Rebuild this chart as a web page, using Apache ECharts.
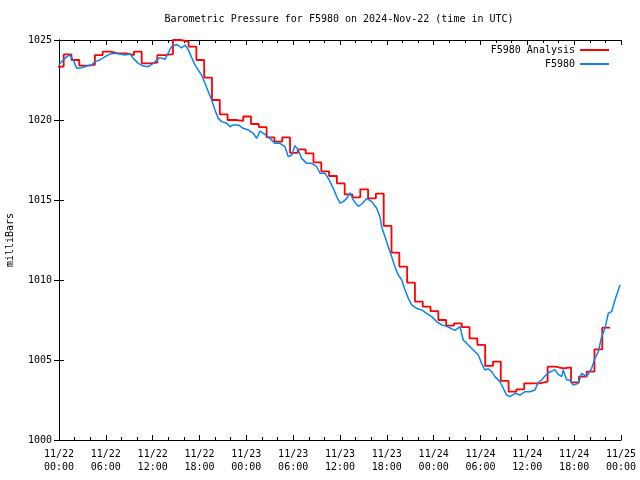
<!DOCTYPE html>
<html>
<head>
<meta charset="utf-8">
<script src="https://cdn.jsdelivr.net/npm/echarts@6/dist/echarts.min.js"></script>
<style>
html,body{margin:0;padding:0;background:#fff;}
#chart{width:640px;height:480px;}
</style>
</head>
<body>
<div id="chart"></div>
<script>
// X tick labels (every 6 hours from 2024-11-22 00:00 UTC)
const xTickLabels = ['11/22\n00:00','11/22\n06:00','11/22\n12:00','11/22\n18:00',
  '11/23\n00:00','11/23\n06:00','11/23\n12:00','11/23\n18:00',
  '11/24\n00:00','11/24\n06:00','11/24\n12:00','11/24\n18:00','11/25\n00:00'];

// F5980 Analysis: hourly values (step starts at hour index - 0.4)
const analysisStartHour = -0.4;
const analysisValues = [
  1023.33,1024.10,1023.75,1023.40,1023.45,1024.06,1024.27,1024.17,1024.17,1024.06,
  1024.27,1023.54,1023.58,1024.06,1024.12,1025.00,1024.90,1024.58,1023.75,1022.65,
  1021.25,1020.35,1020.00,1019.94,1020.22,1019.75,1019.55,1018.92,1018.65,1018.92,
  1017.95,1018.17,1017.92,1017.35,1016.79,1016.50,1016.04,1015.35,1015.17,1015.67,
  1015.10,1015.40,1013.38,1011.71,1010.83,1009.83,1008.65,1008.33,1008.05,1007.50,
  1007.15,1007.29,1007.06,1006.35,1005.94,1004.63,1004.90,1003.69,1003.02,1003.17,
  1003.54,1003.54,1003.65,1004.58,1004.48,1004.54,1003.60,1003.96,1004.27,1005.67,
  1007.02,1007.02
];

// F5980 observations: hours since 11/22 00:00 and pressure (mb)
const obsHours = [
  0.00,0.35,0.99,1.41,1.83,2.27,2.91,3.55,4.19,4.61,5.25,5.89,6.53,7.17,7.81,8.45,9.09,9.52,
  10.16,10.80,11.44,11.66,12.08,12.52,12.94,13.58,14.00,14.44,15.08,15.72,16.14,16.56,17.00,
  17.42,17.85,18.28,18.70,19.13,19.56,19.98,20.41,20.84,21.48,21.91,22.33,22.97,23.61,24.25,
  24.89,25.33,25.75,26.39,27.03,27.67,28.31,28.95,29.38,29.81,30.23,30.66,31.09,31.73,32.37,
  33.01,33.44,34.08,34.50,35.14,35.58,36.00,36.42,36.86,37.28,37.70,38.34,38.78,39.42,40.06,
  40.70,41.12,41.34,41.76,42.19,42.62,43.04,43.47,43.91,44.33,44.76,45.18,45.82,46.46,47.10,
  47.75,48.39,49.03,49.67,50.31,50.73,51.37,51.79,52.43,53.07,53.72,54.15,54.57,55.00,55.43,
  55.85,56.50,56.92,57.35,57.78,58.42,59.06,59.70,60.34,60.98,61.40,61.84,62.26,62.68,63.12,
  63.54,63.96,64.40,64.60,65.04,65.46,65.89,66.53,66.96,67.60,68.24,68.66,69.09,69.52,69.95,
  70.37,70.80,71.23,71.87
];
const obsValues = [
  1023.44,1023.65,1023.96,1024.06,1023.75,1023.23,1023.27,1023.37,1023.44,1023.65,1023.75,1023.96,1024.12,1024.17,1024.12,1024.06,1024.12,1023.85,
  1023.54,1023.37,1023.33,1023.23,1023.54,1023.75,1023.90,1023.80,1024.20,1024.60,1024.72,1024.50,1024.69,1024.40,1023.90,
  1023.44,1023.12,1022.80,1022.30,1021.77,1021.25,1020.63,1020.10,1019.90,1019.80,1019.58,1019.69,1019.69,1019.48,1019.38,
  1019.17,1018.85,1019.30,1019.10,1018.85,1018.54,1018.54,1018.33,1017.71,1017.80,1018.40,1018.12,1017.60,1017.29,1017.29,
  1017.08,1016.67,1016.67,1016.35,1015.73,1015.21,1014.80,1014.90,1015.10,1015.45,1015.00,1014.60,1014.75,1015.10,1014.90,
  1014.48,1013.96,1013.33,1012.71,1012.08,1011.46,1010.83,1010.31,1010.00,1009.38,1008.85,1008.44,1008.23,1008.13,1007.92,
  1007.71,1007.40,1007.19,1007.10,1006.95,1006.85,1007.08,1006.25,1005.94,1005.63,1005.31,1004.79,1004.38,1004.45,1004.27,
  1003.96,1003.65,1003.23,1002.81,1002.71,1002.92,1002.81,1003.02,1003.02,1003.13,1003.60,1003.75,1004.00,1004.20,1004.30,
  1004.40,1004.10,1003.96,1004.38,1003.75,1003.75,1003.44,1003.54,1004.17,1003.96,1004.48,1005.10,1005.52,1006.46,1006.98,
  1007.92,1008.02,1008.75,1009.69
];

const FONT = 'DejaVu Sans Mono';
const chart = echarts.init(document.getElementById('chart'), null, {renderer: 'canvas'});

const analysisData = analysisValues.map((v, i) => [analysisStartHour + i, v]);
const obsData = obsHours.map((h, i) => [h, obsValues[i]]);

const baseX = {
  type: 'value', min: 0, max: 72, interval: 6,
  axisLine: {show: true, lineStyle: {color: '#000', width: 1}},
  axisTick: {show: true, inside: true, length: 5, lineStyle: {color: '#000'}},
  minorTick: {show: true, splitNumber: 3, length: 3, lineStyle: {color: '#000'}},
  splitLine: {show: false}
};
const baseY = {
  type: 'value', min: 1000, max: 1025, interval: 5,
  axisLine: {show: true, lineStyle: {color: '#000', width: 1}},
  axisTick: {show: true, inside: true, length: 5, lineStyle: {color: '#000'}},
  splitLine: {show: false}
};

chart.setOption({
  animation: false,
  backgroundColor: '#fff',
  title: {
    text: 'Barometric Pressure for F5980 on 2024-Nov-22 (time in UTC)',
    left: 339, top: 13, textAlign: 'center', padding: 0,
    textStyle: {fontFamily: FONT, fontSize: 10, fontWeight: 'normal', color: '#000', lineHeight: 12}
  },
  legend: [
    {data: ['F5980 Analysis'], right: 31, top: 43, orient: 'vertical', align: 'right', padding: 0,
     icon: 'rect', itemWidth: 29, itemHeight: 2,
     textStyle: {fontFamily: FONT, fontSize: 10, color: '#000', lineHeight: 14}},
    {data: ['F5980'], right: 31, top: 57, orient: 'vertical', align: 'right', padding: 0,
     icon: 'rect', itemWidth: 29, itemHeight: 2,
     textStyle: {fontFamily: FONT, fontSize: 10, color: '#000', lineHeight: 14}}
  ],
  grid: {left: 59, right: 19, top: 40, bottom: 40, containLabel: false, outerBoundsMode: 'none'},
  xAxis: [
    Object.assign({}, baseX, {
      position: 'bottom',
      axisLabel: {
        show: true, margin: 8, fontFamily: FONT, fontSize: 10, color: '#000', lineHeight: 13,
        formatter: v => xTickLabels[Math.round(v / 6)] || ''
      }
    }),
    Object.assign({}, baseX, {position: 'top', axisLabel: {show: false}})
  ],
  yAxis: [
    Object.assign({}, baseY, {
      position: 'left',
      name: 'milliBars', nameLocation: 'middle', nameRotate: 90, nameGap: 44,
      nameTextStyle: {fontFamily: FONT, fontSize: 10, color: '#000'},
      axisLabel: {show: true, margin: 7, fontFamily: FONT, fontSize: 10, color: '#000',
        formatter: v => String(v)}
    }),
    Object.assign({}, baseY, {position: 'right', axisLabel: {show: false}})
  ],
  series: [
    {
      name: 'F5980 Analysis', type: 'line', step: 'end', data: analysisData,
      showSymbol: false, symbol: 'none', clip: true,
      itemStyle: {color: '#ff0000'},
      lineStyle: {color: '#ff0000', width: 1.8}
    },
    {
      name: 'F5980', type: 'line', data: obsData,
      showSymbol: false, symbol: 'none', clip: true,
      itemStyle: {color: '#0a84f0'},
      lineStyle: {color: '#0a84f0', width: 1.5}
    }
  ]
});
</script>
</body>
</html>
